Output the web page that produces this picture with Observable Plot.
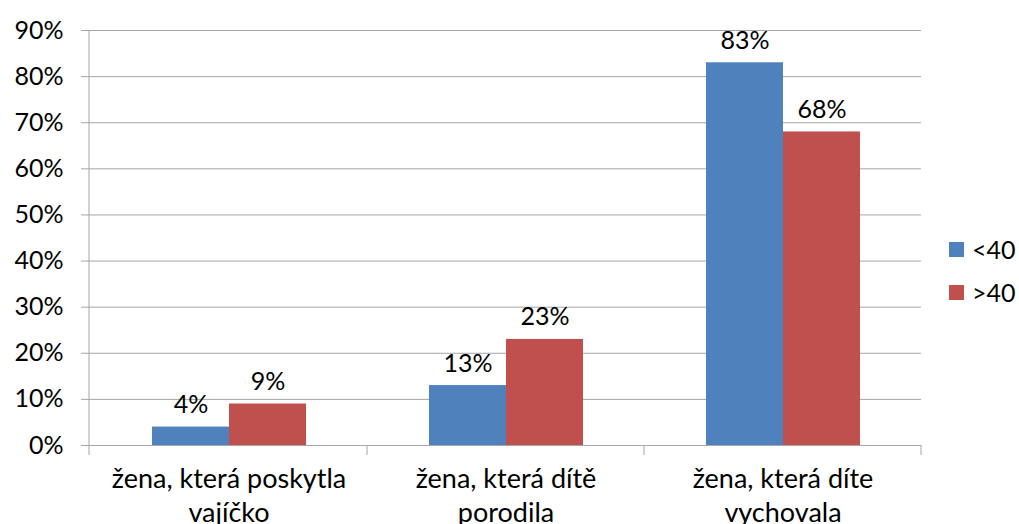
<!DOCTYPE html>
<html><head><meta charset="utf-8">
<script src="https://cdn.jsdelivr.net/npm/d3@7"></script>
<script src="https://cdn.jsdelivr.net/npm/@observablehq/plot@0.6"></script>
<style>
body{margin:0;background:#fff;}
#wrap{position:relative;width:1019px;height:524px;overflow:hidden;font-family:Lato,sans-serif;background:#fff;}
#legend{position:absolute;left:949px;top:235px;font-size:25px;color:#000;}
#legend .item{display:flex;align-items:center;height:28px;margin-bottom:15px;}
#legend .sw{width:15px;height:15px;margin-right:8px;}
</style></head><body><div id="wrap"></div>
<script>
const categories = ["žena, která poskytla\nvajíčko", "žena, která dítě\nporodila", "žena, která díte\nvychovala"];
const series = ["<40", ">40"];
const under40 = [4, 13, 83];
const over40 = [9, 23, 68];
const yTicks = [0, 10, 20, 30, 40, 50, 60, 70, 80, 90];
const colors = ["#4F81BD", "#C0504D"];

const data = categories.flatMap((c, i) => [
  {category: c, group: series[0], value: under40[i]},
  {category: c, group: series[1], value: over40[i]}
]);

const W = 1019, H = 524, mL = 89, mR = 98, mT = 30, mB = 79;
const grid = "#a6a6a6";
const plot = Plot.plot({
  width: W, height: H, marginLeft: mL, marginRight: mR, marginTop: mT, marginBottom: mB,
  style: {fontFamily: "Lato, sans-serif", fontSize: "25px", color: "#000", background: "#fff"},
  fx: {domain: categories, padding: 0, label: null},
  x: {domain: series, paddingInner: 0, paddingOuter: 0.776, axis: null},
  y: {domain: [0, 90], label: null},
  color: {domain: series, range: colors},
  marks: [
    Plot.gridY(yTicks, {stroke: grid, strokeOpacity: 1}),
    Plot.axisY(yTicks, {tickSize: 9, stroke: grid, text: null, label: null}),
    Plot.axisY(yTicks, {tickSize: 0, tickPadding: 27, tickFormat: d => d + "%", label: null, fill: "#000"}),
    Plot.barY(data, {fx: "category", x: "group", y: "value", fill: "group"}),
    Plot.text(data, {fx: "category", x: "group", y: "value", text: d => d.value + "%", lineAnchor: "bottom", dy: -14, fill: "#000"}),
    Plot.axisFx({anchor: "bottom", tickSize: 0, tickPadding: 19, lineHeight: 1.25, fontSize: 27, label: null, fill: "#000"})
  ]
});

// axis line and category boundary ticks, placed from the plot's own scales
const fx = plot.scale("fx"), y = plot.scale("y");
const svg = d3.select(plot);
const y0 = y.apply(0), yTop = y.apply(90);
const left = fx.range[0];
svg.append("line").attr("x1", left).attr("x2", left).attr("y1", yTop).attr("y2", y0 + 10)
  .attr("stroke", grid);
categories.forEach((c) => {
  const x = fx.apply(c) + fx.bandwidth;
  svg.append("line").attr("x1", x).attr("x2", x).attr("y1", y0).attr("y2", y0 + 10).attr("stroke", grid);
});

const wrap = document.getElementById("wrap");
wrap.appendChild(plot);
const legend = document.createElement("div");
legend.id = "legend";
series.forEach((s, i) => {
  const item = document.createElement("div");
  item.className = "item";
  const sw = document.createElement("span");
  sw.className = "sw"; sw.style.background = colors[i];
  const t = document.createElement("span");
  t.textContent = s;
  item.appendChild(sw); item.appendChild(t);
  legend.appendChild(item);
});
wrap.appendChild(legend);
</script></body></html>
